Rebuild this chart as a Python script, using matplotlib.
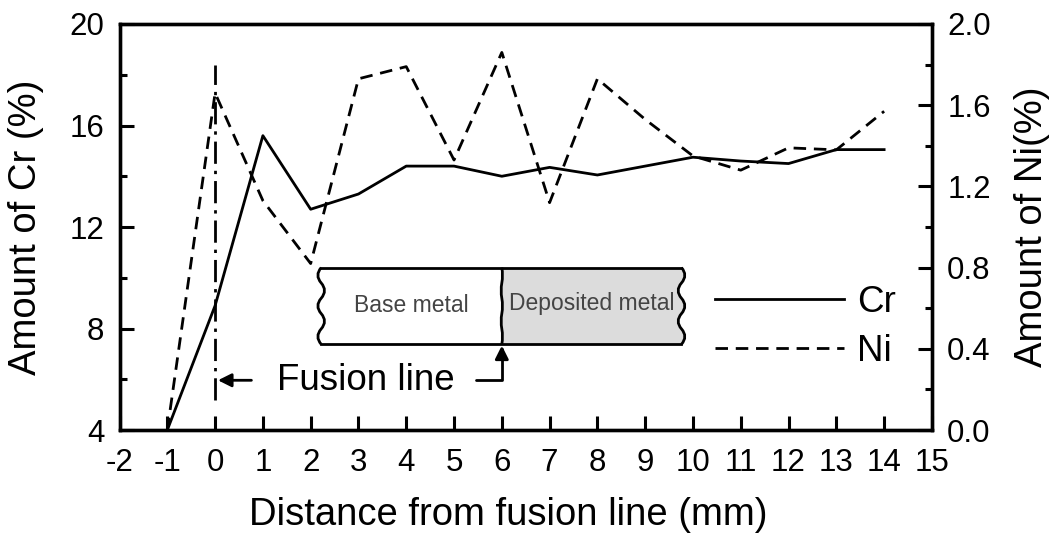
import matplotlib
matplotlib.use('Agg')
import matplotlib.pyplot as plt
from matplotlib.path import Path
from matplotlib.patches import PathPatch

plt.rcParams['font.family'] = ['Liberation Sans', 'DejaVu Sans']
plt.rcParams['axes.unicode_minus'] = False

# Distance from fusion line (mm)
distance = [-1, 0, 1, 2, 3, 4, 5, 6, 7, 8, 9, 10, 11, 12, 13, 14]
# Amount of Cr (%)
cr = [4.0, 8.9, 15.6, 12.7, 13.3, 14.4, 14.4, 14.0, 14.35, 14.05, 14.4, 14.75,
      14.6, 14.5, 15.05, 15.05]
# Amount of Ni (%)
ni = [0.0, 1.66, 1.13, 0.82, 1.73, 1.79, 1.33, 1.86, 1.12, 1.73, 1.53, 1.35,
      1.28, 1.39, 1.38, 1.57]

x_ticks = list(range(-2, 16))
cr_ticks = [4, 8, 12, 16, 20]
cr_minor = [6, 10, 14, 18]
ni_ticks = [0.0, 0.4, 0.8, 1.2, 1.6, 2.0]
ni_minor = [0.2, 0.6, 1.0, 1.4, 1.8]

fig = plt.figure(figsize=(10.53, 5.38), dpi=100)
ax1 = fig.add_axes([0.1135, 0.2007, 0.7715, 0.7547])
ax2 = ax1.twinx()

line_cr, = ax1.plot(distance, cr, color='black', linewidth=2.0, label='Cr')
line_ni, = ax2.plot(distance, ni, color='black', linewidth=2.0,
                    linestyle=(0, (4.5, 2.8)), label='Ni')

ax1.set_xlim(-2, 15)
ax1.set_ylim(4, 20)
ax2.set_ylim(0, 2.0)
ax1.set_xticks(x_ticks)
ax1.set_yticks(cr_ticks)
ax1.set_yticks(cr_minor, minor=True)
ax2.set_yticks(ni_ticks)
ax2.set_yticks(ni_minor, minor=True)
ax2.set_yticklabels(['%.1f' % v for v in ni_ticks])

for ax in (ax1, ax2):
    for sp in ax.spines.values():
        sp.set_linewidth(2.4)
    ax.tick_params(which='both', direction='in', width=2.2, labelsize=22.5)
    ax.tick_params(which='major', length=10, pad=11)
    ax.tick_params(which='minor', length=5)
ax1.tick_params(axis='x', top=False, pad=13)

ax1.set_xlabel('Distance from fusion line (mm)', fontsize=27.5, labelpad=14)
ax1.xaxis.set_label_coords(0.478, -0.165)
ax1.set_ylabel('Amount of Cr (%)', fontsize=27.5, labelpad=18)
ax2.set_ylabel('Amount of Ni(%)', fontsize=27.5, labelpad=17)

# fusion line marker at x = 0
ax1.plot([0, 0], [5.2, 18.4], color='black', linewidth=2.0,
         linestyle=(0, (8, 2.5, 1.2, 2.5)))

# schematic of the weld: base metal | deposited metal
x_left, x_mid, x_right = 2.22, 6.0, 9.76
y_top, y_bot = 10.4, 7.38
h = (y_top - y_bot) / 5.0


def wavy(x0, amp, start_sign):
    verts = []
    codes = []
    s = start_sign
    for k in range(5):
        ya = y_top - k * h
        verts += [(x0 + s * amp, ya - h / 2), (x0, ya - h)]
        codes += [Path.CURVE3, Path.CURVE3]
        s = -s
    return verts, codes


lv, lc = wavy(x_left, 0.14, -1)
mv, mc = wavy(x_mid, 0.03, 1)
rv, rc = wavy(x_right, 0.14, 1)

# grey deposited-metal region
gv = [(x_mid, y_top), (x_right, y_top)] + rv + [(x_mid, y_bot)]
gc = [Path.MOVETO, Path.LINETO] + rc + [Path.LINETO]
mv_rev = [(x_mid, y_bot)]
for k in range(5):
    ya = y_bot + k * h
    mv_rev += [(x_mid + (0.03 if k % 2 == 0 else -0.03), ya + h / 2), (x_mid, ya + h)]
gv += mv_rev[1:]
gc += [Path.CURVE3] * (len(mv_rev) - 1)
ax1.add_patch(PathPatch(Path(gv, gc), facecolor='#dcdcdc', edgecolor='none',
                        zorder=1))

for verts, codes, x0 in ((lv, lc, x_left), (mv, mc, x_mid), (rv, rc, x_right)):
    p = Path([(x0, y_top)] + verts, [Path.MOVETO] + codes)
    ax1.add_patch(PathPatch(p, facecolor='none', edgecolor='black',
                            linewidth=2.0, zorder=3))
ax1.plot([x_left, x_right], [y_top, y_top], color='black', linewidth=2.0, zorder=3)
ax1.plot([x_left, x_right], [y_bot, y_bot], color='black', linewidth=2.0, zorder=3)

ax1.text((x_left + x_mid) / 2, (y_top + y_bot) / 2, 'Base metal', fontsize=16.5,
         color='#444444', ha='center', va='center', zorder=4)
ax1.text((x_mid + x_right) / 2, (y_top + y_bot) / 2 + 0.1, 'Deposited metal',
         fontsize=16.5, color='#444444', ha='center', va='center', zorder=4)

# "Fusion line" callout
ax1.annotate('', xy=(0.06, 5.96), xytext=(0.76, 5.96),
             arrowprops=dict(arrowstyle='-|>', color='black', lw=2.0,
                             mutation_scale=20, shrinkA=0, shrinkB=0))
ax1.text(1.3, 5.57, 'Fusion line', fontsize=26.5, ha='left', va='baseline')
ax1.annotate('', xy=(6.0, 7.33), xytext=(5.45, 5.96),
             arrowprops=dict(arrowstyle='-|>', color='black', lw=2.0,
                             mutation_scale=20, shrinkA=0, shrinkB=0,
                             connectionstyle='angle,angleA=0,angleB=90,rad=0'))

ax2.legend([line_cr, line_ni], ['Cr', 'Ni'], loc='center left',
           bbox_to_anchor=(0.733, 0.254), frameon=False, fontsize=26.5,
           handlelength=3.5, handletextpad=0.35, labelspacing=0.36,
           borderpad=0, borderaxespad=0)

fig.savefig('out.png', dpi=100)
